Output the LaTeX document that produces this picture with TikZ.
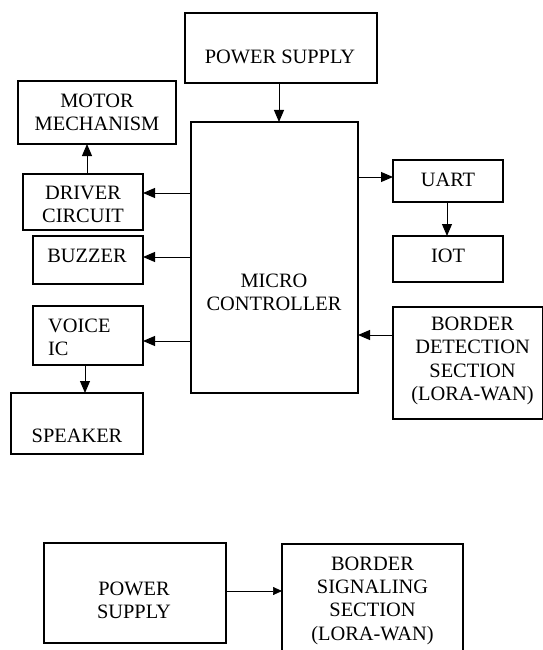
\documentclass[tikz,border=0pt]{standalone}
\usepackage{fontspec}
\setmainfont{Liberation Serif}
\usetikzlibrary{arrows.meta}
\begin{document}
\begin{tikzpicture}[x=1pt,y=-1pt,
 box/.style={draw, line width=1.3pt, inner sep=0pt, outer sep=0pt, anchor=north west},
 lbl/.style={font=\fontsize{20.4}{23.3}\selectfont, inner sep=0pt, align=center},
 arr/.style={line width=1pt, -{Triangle[length=12pt,width=10pt]}}]
\useasboundingbox (0,0) rectangle (543,650);
\clip (0,0) rectangle (543,650);
% boxes
\node[box, minimum width=192, minimum height=70] (ps) at (185,13) {};
\node[box, minimum width=158, minimum height=63] (motor) at (18,81) {};
\node[box, minimum width=167, minimum height=271] (mc) at (191,122) {};
\node[box, minimum width=120, minimum height=56] (driver) at (23,174) {};
\node[box, minimum width=110, minimum height=48] (buzzer) at (33,236) {};
\node[box, minimum width=110, minimum height=59] (voice) at (33,306) {};
\node[box, minimum width=132, minimum height=61] (speaker) at (11,393) {};
\node[box, minimum width=110, minimum height=42] (uart) at (393,160) {};
\node[box, minimum width=110, minimum height=46] (iot) at (393,236) {};
\node[box, minimum width=150, minimum height=112] (bd) at (393,307) {};
\node[box, minimum width=182, minimum height=100] (ps2) at (44,543) {};
\node[box, minimum width=181, minimum height=130] (bs) at (282,544) {};
% labels
\node[lbl] (tps) at (280,57) {POWER SUPPLY};
\node[lbl] (tmotor) at (97,112.5) {MOTOR\\MECHANISM};
\node[lbl] (tmc) at (274,292) {MICRO\\CONTROLLER};
\node[lbl] (tdriver) at (83,204.5) {DRIVER\\CIRCUIT};
\node[lbl] (tbuzzer) at (87,256) {BUZZER};
\node[lbl, align=left, anchor=west] (tvoice) at (48,337.5) {VOICE\\IC};
\node[lbl] (tspeaker) at (77,436) {SPEAKER};
\node[lbl] (tuart) at (448,180) {UART};
\node[lbl] (tiot) at (448,256) {IOT};
\node[lbl] (tbd) at (472.5,361) {BORDER\\DETECTION\\SECTION\\(LORA-WAN)};
\node[lbl] (tps2) at (134,600.5) {POWER\\SUPPLY};
\node[lbl] (tbs) at (372.5,600.5) {BORDER\\SIGNALING\\SECTION\\(LORA-WAN)};
% connectors
\draw[arr] (ps.south -| 279,0) -- (mc.north -| 279,0);
\draw[arr] (mc.west |- 0,193) -- (driver.east |- 0,193);
\draw[arr] (driver.north -| 87,0) -- (motor.south -| 87,0);
\draw[arr] (mc.west |- 0,257) -- (buzzer.east |- 0,257);
\draw[arr] (mc.west |- 0,341) -- (voice.east |- 0,341);
\draw[arr] (voice.south -| 85,0) -- (speaker.north -| 85,0);
\draw[arr] (mc.east |- 0,177) -- (uart.west |- 0,177);
\draw[arr] (uart.south -| 447,0) -- (iot.north -| 447,0);
\draw[arr] (bd.west |- 0,335) -- (mc.east |- 0,335);
\draw[line width=0.7pt, -{Triangle[length=9pt,width=8pt]}] (ps2.east |- 0,591) -- (bs.west |- 0,591);
\end{tikzpicture}
\end{document}
